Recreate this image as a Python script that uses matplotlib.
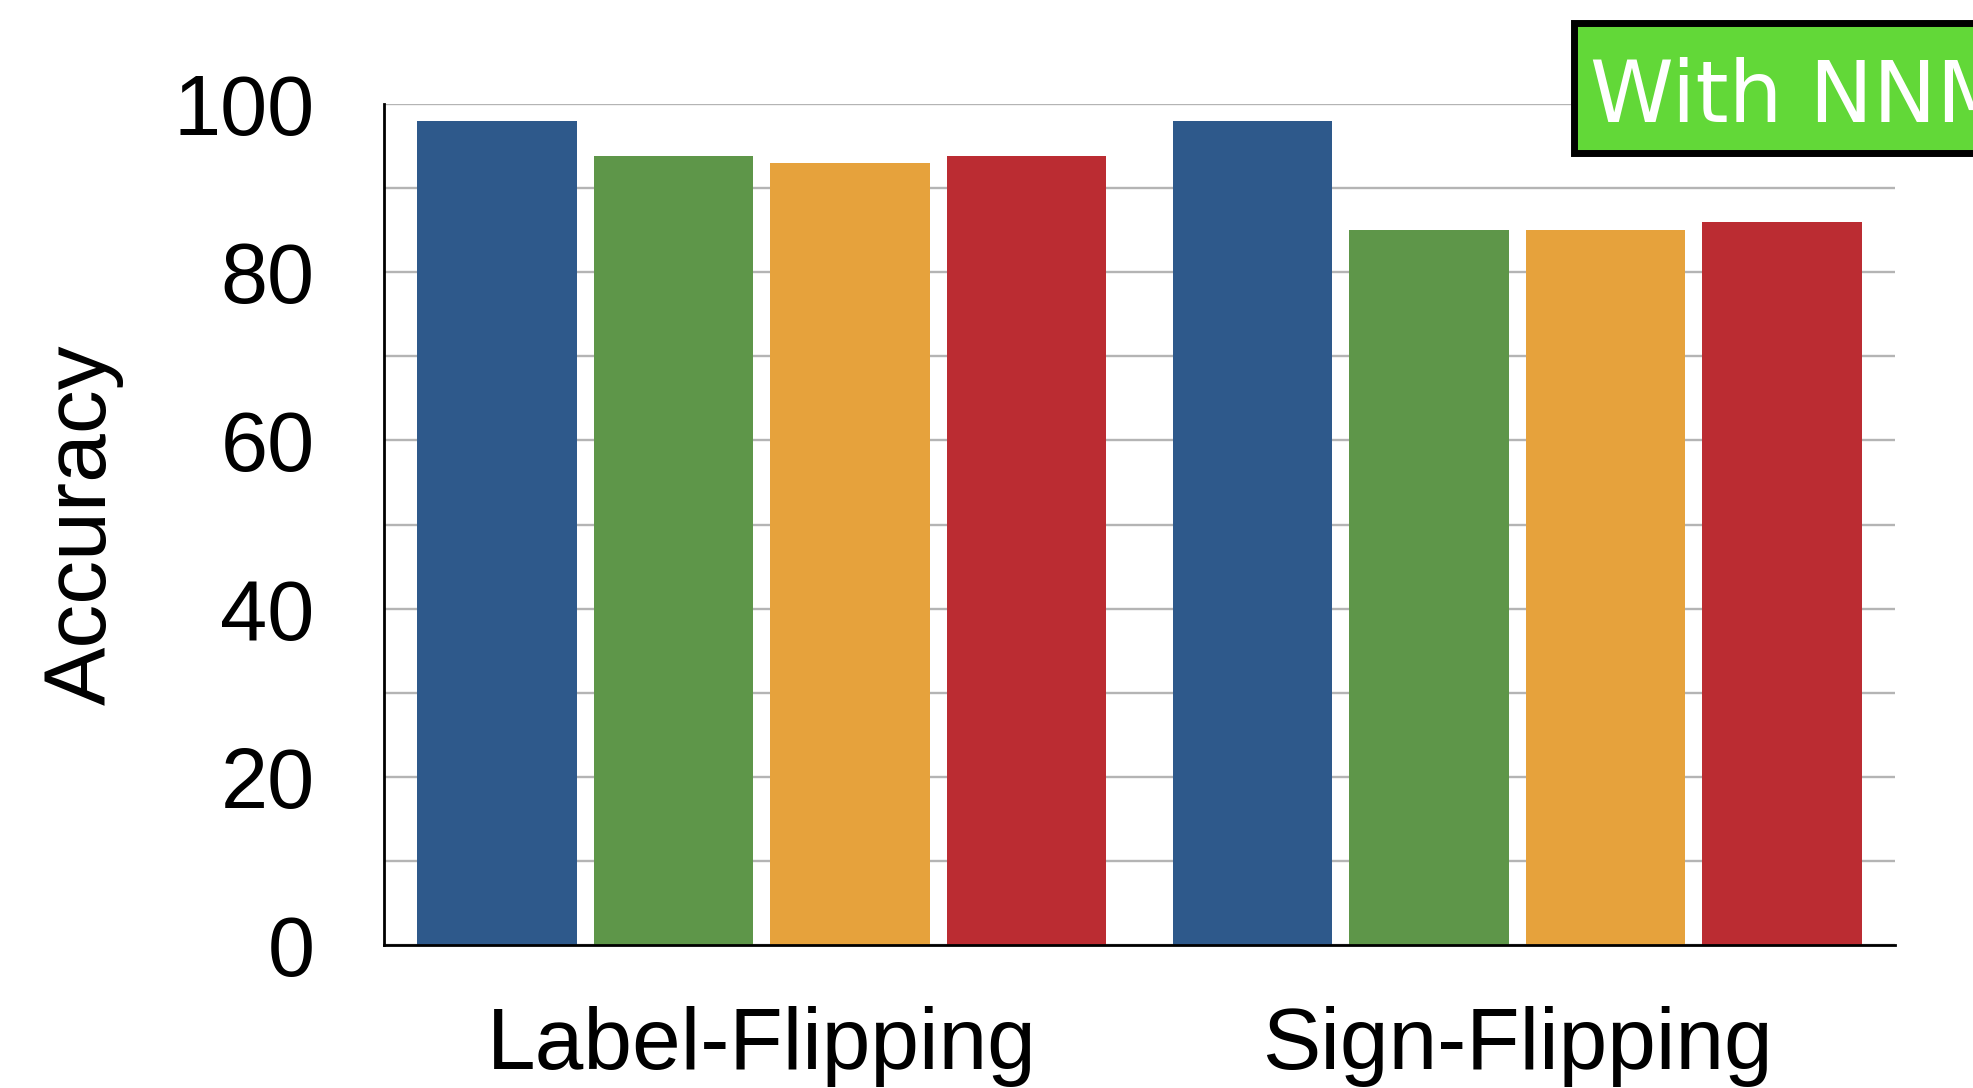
import matplotlib
matplotlib.use("Agg")
import matplotlib.pyplot as plt
from matplotlib.patches import Rectangle
import numpy as np

# Accuracy per attack type for each of the four methods
categories = ["Label-Flipping", "Sign-Flipping"]
series_1 = [98.0, 98.0]
series_2 = [93.8, 85.0]
series_3 = [93.0, 85.0]
series_4 = [93.8, 86.0]
series = [series_1, series_2, series_3, series_4]
colors = ["#2E598B", "#5E9649", "#E6A23C", "#BB2C32"]
y_ticks = [0, 20, 40, 60, 80, 100]
badge_text = "With NNM"

W, H, DPI = 1973, 1088, 100
fig = plt.figure(figsize=(W / DPI, H / DPI), dpi=DPI)
ax = fig.add_axes([384 / W, 1 - 945 / H, (1895 - 384) / W, (945 - 104) / H])

font = ["Liberation Sans", "DejaVu Sans"]
x = np.arange(len(categories))
slot = 0.2337
bar_w = 0.211
for i, (vals, col) in enumerate(zip(series, colors)):
    offs = (i - 1.5) * slot
    ax.bar(x + offs, vals, width=bar_w, color=col, zorder=3, linewidth=0)

ax.set_xlim(-0.5, 1.5)
ax.set_ylim(0, 100)
ax.set_yticks(y_ticks)
ax.set_yticks(np.arange(10, 100, 20), minor=True)
ax.set_yticklabels([str(t) for t in y_ticks], fontsize=61, family=font)
ax.set_xticks(x)
ax.set_xticklabels(categories, fontsize=63, family=font)
ax.tick_params(axis="y", which="both", length=0, pad=50)
ax.tick_params(axis="x", length=0, pad=44)

ax.grid(axis="y", which="both", color="#b4b4b4", linewidth=1.7, zorder=0)
ax.set_axisbelow(True)
for side in ["top", "right"]:
    ax.spines[side].set_visible(False)
for side in ["left", "bottom"]:
    ax.spines[side].set_color("black")
    ax.spines[side].set_linewidth(2)
    ax.spines[side].set_zorder(4)

ax.set_ylabel("Accuracy", fontsize=63, family=font)
ax.yaxis.set_label_coords(-0.172, 0.50)

# badge in the top-right corner, running off the figure edge
bx0, by0, by1 = 1574, 23, 153
fig.patches.append(Rectangle((bx0 / W, 1 - by1 / H), (W + 200 - bx0) / W, (by1 - by0) / H,
                             transform=fig.transFigure, facecolor="#62D838",
                             edgecolor="black", linewidth=5, clip_on=False))
fig.text(1590 / W, 1 - 122 / H, badge_text, fontsize=61, color="white",
         family="DejaVu Sans", ha="left", va="baseline")

fig.savefig("out.png", dpi=DPI)
